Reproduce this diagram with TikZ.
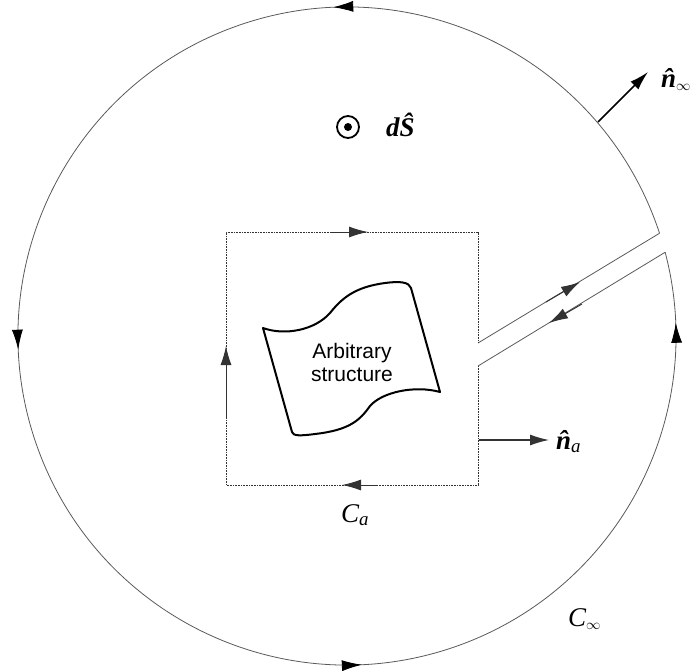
\documentclass[tikz,border=0pt]{standalone}
\usepackage{fontspec}
\usepackage{amsmath}
\setmainfont{Liberation Serif}
\newfontfamily\labsans{Liberation Sans}
\usetikzlibrary{arrows.meta,decorations.markings}
\begin{document}
\begin{tikzpicture}[x=1pt,y=-1pt,
  tipa/.style={-{Latex[length=19pt,width=11pt]}},
  outerline/.style={draw=black!65, line width=0.8pt},
  boxline/.style={draw=black!80, line width=0.9pt, dash pattern=on 0.9pt off 0.7pt},
  solidseg/.style={draw=black!80, line width=1pt},
  structline/.style={draw=black, line width=2pt, line join=round},
  mlabel/.style={font=\fontsize{27}{32}\selectfont, inner sep=0pt, anchor=base west},
  circarrow/.style={postaction={decorate}, decoration={markings,
     mark=at position 0.2081 with {\arrow[black]{Latex[length=20pt,width=11pt]}},
     mark=at position 0.4605 with {\arrow[black]{Latex[length=20pt,width=11pt]}},
     mark=at position 0.7135 with {\arrow[black]{Latex[length=20pt,width=11pt]}},
     mark=at position 0.9651 with {\arrow[black]{Latex[length=20pt,width=11pt]}}}}]
\useasboundingbox (0,0) rectangle (691,670);

% outer contour C_infinity
\coordinate (O) at (347,336);
\draw[outerline, circarrow] (O) ++(-18.2:329) coordinate (su)
  arc[start angle=-18.2, end angle=-374.75, radius=329] coordinate (sl);

% slot lines
\coordinate (bu) at (478,343);
\coordinate (bl) at (478,366);
\draw[outerline] (bu) -- (su);
\draw[outerline] (sl) -- (bl);
\coordinate (s1a) at (546,302);
\coordinate (s1b) at (580,282);
\coordinate (s2a) at (582,304);
\coordinate (s2b) at (549,323);
\draw[solidseg, tipa] (s1a) -- (s1b);
\draw[solidseg, tipa] (s2a) -- (s2b);

% inner contour C_a
\coordinate (tr) at (478,232);
\coordinate (br) at (478,485);
\coordinate (bleft) at (226,485);
\coordinate (tl) at (226,232);
\draw[boxline] (bl) -- (br) -- (bleft) -- (tl) -- (tr) -- (bu);
\coordinate (ta) at (330,232);
\coordinate (tb) at (368,232);
\coordinate (la) at (226,417);
\coordinate (lb) at (226,346);
\coordinate (ba) at (378,485);
\coordinate (bb) at (342,485);
\draw[solidseg, tipa] (ta) -- (tb);
\draw[solidseg, tipa] (la) -- (lb);
\draw[solidseg, tipa] (ba) -- (bb);

% arbitrary structure
\draw[structline] (263,328) .. controls (285,336) and (315,330) .. (330,313)
  .. controls (342,298) and (355,287) .. (385,283)
  .. controls (400,281) and (409,282) .. (411,288)
  -- (440,392)
  .. controls (415,385) and (382,392) .. (370,406)
  .. controls (360,420) and (350,430) .. (315,434)
  .. controls (300,436) and (293,436) .. (292,432) -- cycle;
\node[align=center, font=\labsans\fontsize{21}{23}\selectfont, inner sep=0pt] (arb) at (352,362) {Arbitrary\\structure};

% normal n_a
\coordinate (na0) at (479,440);
\node[mlabel] (nal) at (556,449) {{\bfseries\itshape \^n}$_{\text{\itshape a}}$};
\coordinate (na1) at (549,440);
\draw[solidseg, line width=1.2pt, tipa] (na0) -- (na1);

% normal n_infinity
\coordinate (ni0) at (598,122);
\coordinate (ni1) at (648,72);
\draw[black, line width=1.5pt, tipa] (ni0) -- (ni1);
\node[mlabel] (nil) at (661,87) {{\bfseries\itshape \^n}$_{\scriptscriptstyle\infty}$};

% dS
\coordinate (dsc) at (348,127);
\draw[black, line width=1.8pt] (dsc) circle[radius=11];
\fill[black] (dsc) circle[radius=4];
\node[mlabel] (dsl) at (386,136) {\bfseries\itshape d\^S};

% contour labels
\node[mlabel] (cal) at (341,522) {{\itshape C}$_{\text{\itshape a}}$};
\node[mlabel] (cil) at (568,626) {{\itshape C}$_{\scriptscriptstyle\infty}$};
\end{tikzpicture}
\end{document}
